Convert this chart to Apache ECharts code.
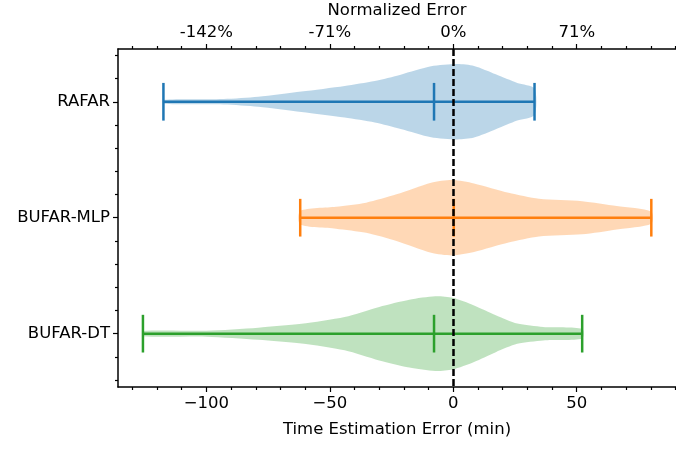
<!DOCTYPE html>
<html>
<head>
<meta charset="utf-8">
<script src="https://cdn.jsdelivr.net/npm/echarts@6/dist/echarts.min.js"></script>
<style>
  html, body { margin: 0; padding: 0; background: #fff; }
  #main { width: 676px; height: 450px; }
</style>
</head>
<body>
<div id="main"></div>
<script>
// Models, top to bottom
const models = ["RAFAR", "BUFAR-MLP", "BUFAR-DT"];
const positions = [1, 2, 3];
const colors = ["#1f77b4", "#ff7f0e", "#2ca02c"];

// Violin outlines: error (min) and relative density (0..1)
const rafarX = [-117.4, -93.0, -79.0, -61.5, -44.0, -31.8, -21.3, -9.0, 1.5, 8.4, 17.2, 25.9, 32.9];
const rafarD = [0.05, 0.07, 0.13, 0.27, 0.42, 0.55, 0.72, 0.94, 1.0, 0.95, 0.73, 0.50, 0.35];
const mlpX = [-62.0, -47.5, -35.3, -23.0, -9.0, -0.3, 8.4, 22.4, 34.7, 52.2, 66.2, 80.2];
const mlpD = [0.18, 0.29, 0.40, 0.62, 0.93, 1.0, 0.91, 0.66, 0.50, 0.44, 0.31, 0.16];
const dtX = [-125.7, -100.0, -79.0, -61.5, -44.0, -30.0, -17.8, -7.3, -0.3, 8.4, 17.2, 25.9, 36.4, 52.2];
const dtD = [0.07, 0.08, 0.16, 0.26, 0.44, 0.71, 0.90, 0.99, 0.95, 0.75, 0.49, 0.27, 0.18, 0.13];

// Extremes and medians (min)
const mins = [-117.4, -62.0, -125.7];
const maxs = [32.9, 80.2, 52.2];
const medians = [-7.8, 0.2, -7.8];

// Tick labels
const bottomTicks = [-100, -50, 0, 50];
const bottomLabels = ["\u2212100", "\u221250", "0", "50"];
const topLabels = ["-142%", "-71%", "0%", "71%"];
const minorX = [-130, -120, -110, -90, -80, -70, -60, -40, -30, -20, -10, 10, 20, 30, 40, 60, 70, 80, 90];
const minorY = [0.6, 0.8, 1.2, 1.4, 1.6, 1.8, 2.2, 2.4, 2.6, 2.8, 3.2, 3.4];

const profiles = [[rafarX, rafarD], [mlpX, mlpD], [dtX, dtD]];

var myChart = echarts.init(document.getElementById("main"));

const HALF = 0.325;   // max half width of a violin (y units)
const CAP = 0.1625;   // half length of the caps

function violinSeries(i) {
  return {
    type: "custom",
    xAxisIndex: 0,
    yAxisIndex: 0,
    data: [[mins[i], positions[i]]],
    z: 2,
    silent: true,
    renderItem: function (params, api) {
      const xs = profiles[i][0];
      const ds = profiles[i][1];
      const c = positions[i];
      const pts = [];
      for (let k = 0; k < xs.length; k++) pts.push(api.coord([xs[k], c - ds[k] * HALF]));
      for (let k = xs.length - 1; k >= 0; k--) pts.push(api.coord([xs[k], c + ds[k] * HALF]));
      const line = (x1, y1, x2, y2) => {
        const a = api.coord([x1, y1]);
        const b = api.coord([x2, y2]);
        return {
          type: "line",
          shape: { x1: a[0], y1: a[1], x2: b[0], y2: b[1] },
          style: { stroke: colors[i], lineWidth: 2.5 },
        };
      };
      return {
        type: "group",
        children: [
          {
            type: "polygon",
            shape: { points: pts, smooth: 0.25 },
            style: { fill: colors[i], opacity: 0.3 },
          },
          line(mins[i], c, maxs[i], c),
          line(mins[i], c - CAP, mins[i], c + CAP),
          line(maxs[i], c - CAP, maxs[i], c + CAP),
          line(medians[i], c - CAP, medians[i], c + CAP),
        ],
      };
    },
  };
}

const font = "DejaVu Sans";
const fs = 16.5;
const xMin = -135.8;
const xMax = 90.2;

function xAxisDef(pos, major, showLine) {
  return {
    type: "value",
    position: pos,
    min: xMin,
    max: xMax,
    splitLine: { show: false },
    axisLine: { show: showLine, onZero: false, lineStyle: { color: "#000", width: 1.5 } },
    axisTick: {
      show: true,
      inside: false,
      length: major ? 5 : 3,
      customValues: major ? bottomTicks : minorX,
      lineStyle: { color: "#000", width: 1.2 },
    },
    axisLabel: { show: false },
  };
}

const xBottom = xAxisDef("bottom", true, true);
xBottom.axisLabel = {
  show: true,
  customValues: bottomTicks,
  formatter: (v) => bottomLabels[bottomTicks.indexOf(v)],
  color: "#000",
  fontFamily: font,
  fontSize: fs,
  margin: 8,
};
xBottom.name = "Time Estimation Error (min)";
xBottom.nameLocation = "middle";
xBottom.nameGap = 34;
xBottom.nameTextStyle = { color: "#000", fontFamily: font, fontSize: fs };

const xTop = xAxisDef("top", true, true);
xTop.axisLabel = {
  show: true,
  customValues: bottomTicks,
  formatter: (v) => topLabels[bottomTicks.indexOf(v)],
  color: "#000",
  fontFamily: font,
  fontSize: fs,
  margin: 8,
};
xTop.name = "Normalized Error";
xTop.nameLocation = "middle";
xTop.nameGap = 29;
xTop.nameTextStyle = { color: "#000", fontFamily: font, fontSize: fs };

function yAxisDef(major) {
  return {
    type: "value",
    position: "left",
    inverse: true,
    min: 0.545,
    max: 3.46,
    splitLine: { show: false },
    axisLine: { show: major, onZero: false, lineStyle: { color: "#000", width: 1.5 } },
    axisTick: {
      show: true,
      length: major ? 5 : 3,
      customValues: major ? positions : minorY,
      lineStyle: { color: "#000", width: 1.2 },
    },
    axisLabel: major
      ? {
          show: true,
          customValues: positions,
          formatter: (v) => models[positions.indexOf(v)],
          color: "#000",
          fontFamily: font,
          fontSize: fs,
          margin: 8,
        }
      : { show: false },
  };
}

var option = {
  animation: false,
  backgroundColor: "#fff",
  grid: { left: 118, right: 0, top: 49, bottom: 63, outerBoundsMode: "none", containLabel: false },
  xAxis: [xBottom, xAxisDef("bottom", false, false), xTop, xAxisDef("top", false, false)],
  yAxis: [yAxisDef(true), yAxisDef(false)],
  series: [
    violinSeries(0),
    violinSeries(1),
    violinSeries(2),
    {
      type: "line",
      data: [],
      z: 10,
      markLine: {
        silent: true,
        symbol: "none",
        label: { show: false },
        lineStyle: { color: "#000", width: 2.5, type: [7, 3] },
        data: [{ xAxis: 0 }],
      },
    },
  ],
};

myChart.setOption(option);
</script>
</body>
</html>
